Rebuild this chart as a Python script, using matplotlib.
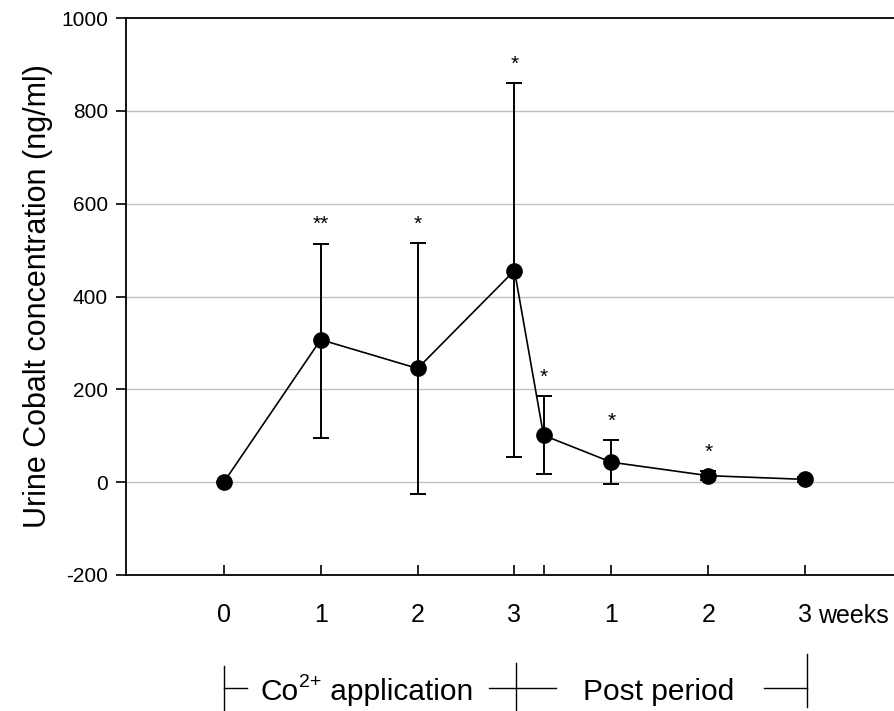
import matplotlib
matplotlib.use("Agg")
import matplotlib.pyplot as plt
from matplotlib.lines import Line2D
import matplotlib.transforms as mtransforms

plt.rcParams['font.family'] = ['Liberation Sans', 'DejaVu Sans']

# ---- data ----
x_pos = [0, 1, 2, 3, 3.3, 4, 5, 6]
conc = [0, 307, 245, 456, 101, 43, 14, 6]
err_low = [0, 96, -25, 54, 18, -4, 5, 1]
err_high = [0, 514, 516, 859, 185, 91, 24, 11]
stars = ['', '**', '*', '*', '*', '*', '*', '']
tick_pos = [0, 1, 2, 3, 3.3, 4, 5, 6]
tick_labels = ['0', '1', '2', '3', '', '1', '2', '3']
y_ticks = [-200, 0, 200, 400, 600, 800, 1000]

W, H = 894, 711
fig = plt.figure(figsize=(W / 100, H / 100), dpi=100)
ax = fig.add_axes([126 / W, 1 - 575 / H, 8 * 97 / W, (575 - 18) / H])
ax.set_xlim(-1.01, 7)
ax.set_ylim(-200, 1000)

for yv in y_ticks[1:-1]:
    ax.axhline(yv, color='#c0c0c0', lw=1.0, zorder=0)

yerr = [[c - lo for c, lo in zip(conc, err_low)], [hi - c for c, hi in zip(conc, err_high)]]
ax.errorbar(x_pos, conc, yerr=yerr, fmt='o-', color='black', ms=11, lw=1.2,
            elinewidth=1.4, capsize=6, capthick=1.4, zorder=3)

for xv, hi, s in zip(x_pos, err_high, stars):
    if s:
        ax.text(xv, hi + 20, s, ha='center', va='bottom', fontsize=15)

ax.spines['right'].set_visible(False)
for sp in ['left', 'bottom', 'top']:
    ax.spines[sp].set_linewidth(1.3)

ax.set_yticks(y_ticks)
ax.set_yticklabels([str(v) for v in y_ticks], fontsize=15)
ax.tick_params(axis='y', direction='out', length=7, width=1.2, pad=6)
ax.set_xticks(tick_pos)
ax.set_xticklabels(tick_labels, fontsize=18)
ax.tick_params(axis='x', direction='in', length=7, width=1.2, pad=20)
ax.set_ylabel('Urine Cobalt concentration (ng/ml)', fontsize=22, labelpad=6)

def fx(px):
    return px / W

def fy(py):
    return 1 - py / H

trans = mtransforms.blended_transform_factory(ax.transData, fig.transFigure)
ax.text(6.13, fy(623), 'weeks', transform=trans, ha='left', va='baseline',
        fontsize=18, clip_on=False)

# bottom period annotation
def fline(x0, y0, x1, y1):
    fig.add_artist(Line2D([fx(x0), fx(x1)], [fy(y0), fy(y1)], color='black', lw=1.0))

fline(224, 666, 224, 712)
fline(516, 663, 516, 712)
fline(807, 654, 807, 707)
fline(224, 688, 247, 688)
fline(489, 688, 556, 688)
fline(764, 688, 807, 688)

t1 = fig.text(fx(260), fy(700), 'Co', fontsize=21.5, ha='left', va='baseline')
t2 = fig.text(0, 0, '2+', fontsize=14)
t2.set_transform(mtransforms.offset_copy(t1.get_transform(), fig=fig, x=0, y=0))
fig.canvas.draw()
r = fig.canvas.get_renderer()
bb1 = t1.get_window_extent(r)
t2.set_transform(fig.transFigure)
t2.set_position((bb1.x1 / fig.bbox.width + 1 / W, fy(700) + 13 / H))
t2.set_va('baseline')
fig.canvas.draw()
bb2 = t2.get_window_extent(r)
fig.text(bb2.x1 / fig.bbox.width, fy(700), ' application', fontsize=21.5,
         ha='left', va='baseline')
fig.text(fx(583), fy(700), 'Post period', fontsize=21.5, ha='left', va='baseline')

fig.savefig('out.png', dpi=100)
